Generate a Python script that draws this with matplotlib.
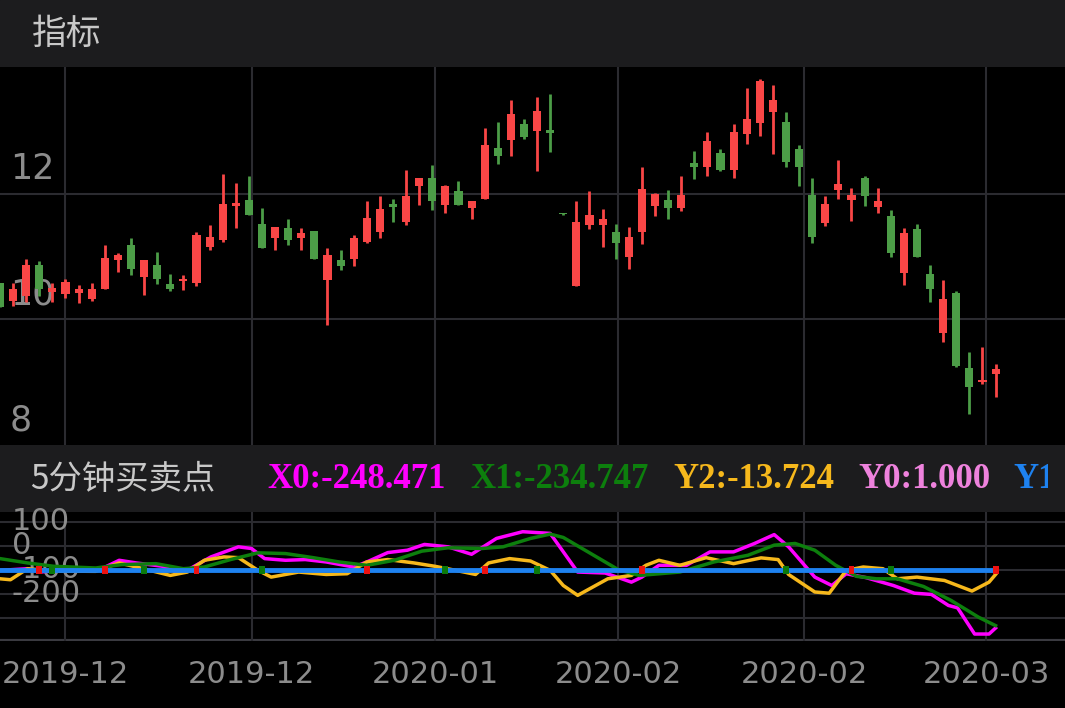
import matplotlib
matplotlib.use("Agg")
import matplotlib.pyplot as plt
from matplotlib.patches import Rectangle
import numpy as np

# ---------------- data ----------------
opens  = [10.58,10.29,10.37,10.87,10.44,10.41,10.42,10.32,10.49,10.94,11.19,10.67,10.86,10.56,10.61,10.58,11.16,11.26,11.80,11.90,
          11.52,11.29,11.46,11.29,11.41,10.62,10.94,10.97,11.23,11.40,11.84,11.55,12.12,12.26,11.83,12.05,11.77,11.92,12.73,12.86,
          13.12,13.00,13.02,11.68,10.53,11.50,11.50,11.39,10.99,11.39,11.80,11.90,11.77,12.49,12.42,12.65,12.38,12.95,13.13,13.31,
          13.15,12.71,11.98,11.53,12.06,11.90,12.25,11.79,11.64,10.74,11.44,10.73,9.79,10.42,9.22,9.00,9.13]
closes = [10.19,10.49,10.86,10.48,10.50,10.59,10.49,10.48,10.98,11.02,10.80,10.94,10.64,10.48,10.65,11.34,11.32,11.84,11.86,11.67,
          11.14,11.47,11.27,11.37,10.97,11.03,10.85,11.30,11.62,11.76,11.79,11.96,12.25,11.89,12.13,11.82,11.88,12.78,12.61,13.27,
          12.91,13.32,12.97,11.68,11.55,11.67,11.60,11.21,11.31,12.08,11.99,11.78,11.98,12.42,12.84,12.38,12.99,13.19,13.79,13.49,
          12.51,12.42,11.32,11.84,12.15,11.98,11.96,11.89,11.05,11.38,10.99,10.48,10.33,9.26,8.92,9.04,9.21]
highs  = [10.58,10.58,10.96,10.93,10.58,10.65,10.55,10.58,11.18,11.05,11.29,10.94,11.07,10.73,10.71,11.40,11.51,12.31,12.17,12.29,
          11.78,11.47,11.60,11.46,11.41,11.14,11.10,11.35,11.89,11.97,11.92,12.38,12.25,12.46,12.14,12.20,11.88,13.05,13.14,13.49,
          13.19,13.55,13.59,11.69,11.89,12.05,11.76,11.52,11.47,12.42,12.01,12.06,12.29,12.68,12.98,12.71,13.12,13.69,13.83,13.73,
          13.30,12.78,12.25,11.97,12.54,12.09,12.28,12.09,11.75,11.45,11.52,10.86,10.63,10.46,9.48,9.56,9.29]
lows   = [10.19,10.21,10.28,10.37,10.28,10.34,10.26,10.29,10.48,10.76,10.71,10.39,10.56,10.45,10.47,10.54,11.11,11.24,11.45,11.66,
          11.14,11.11,11.19,11.11,10.97,9.91,10.78,10.85,11.22,11.30,11.55,11.51,11.82,11.74,11.69,11.82,11.60,11.92,12.48,12.61,
          12.87,12.37,12.66,11.67,10.53,11.44,11.15,10.97,10.80,11.20,11.64,11.60,11.73,12.23,12.29,12.37,12.26,12.79,12.92,12.64,
          12.42,12.12,11.21,11.48,11.92,11.56,11.80,11.70,11.00,10.55,10.99,10.28,9.64,9.25,8.49,8.97,8.77]

date_labels = ["2019-12", "2019-12", "2020-01", "2020-02", "2020-02", "2020-03"]
date_pos = [4.96, 19.2, 33.2, 47.2, 61.4, 75.3]

x0_idx = [0,2.1,3.1,5.2,7.5,9.1,10.4,12.4,13.5,14.5,16.1,18.2,19.2,20.2,21.8,23.3,24.9,27.0,28.0,29.6,31.1,32.4,34.2,36.0,37.9,
          39.9,42.0,44.1,46.2,48.2,49.0,50.3,52.4,54.2,56.0,57.6,59.1,60.2,62.2,63.5,64.6,66.1,68.2,69.8,71.1,72.4,73.1,74.4,75.5,76.0]
x0_val = [-103,-96,-110,-96,-103,-61,-72,-86,-110,-96,-47,-5,-12,-54,-61,-58,-68,-89,-68,-29,-19,5,-5,-36,30,
          58,51,-110,-114,-152,-131,-82,-82,-26,-26,9,46,-5,-131,-166,-117,-133,-166,-198,-203,-249,-259,-368,-368,-343]
x1_idx = [0,2.1,4.1,7.3,9.3,11.9,14.0,15.6,17.6,19.7,21.8,23.9,25.9,28.0,30.1,32.2,34.2,36.8,38.4,40.5,42.0,43.0,45.1,47.2,48.8,
          51.9,54.5,57.1,59.1,60.7,62.2,63.8,65.4,66.9,68.5,70.5,72.6,74.7,76.0]
x1_val = [-54,-72,-86,-93,-79,-75,-96,-89,-58,-30,-33,-50,-68,-82,-61,-23,-9,-12,-5,30,48,34,-33,-100,-124,
          -110,-68,-40,2,9,-19,-82,-128,-138,-138,-170,-228,-298,-333]
y2_idx = [0,0.8,2.1,4.1,7.3,9.1,10.4,13.0,14.3,15.6,17.1,18.2,19.7,20.7,22.8,24.9,26.5,28.0,29.6,31.6,33.2,34.8,36.3,37.3,38.9,
          40.5,42.0,43.0,44.1,46.4,48.2,49.3,50.3,51.9,53.9,56.0,58.1,59.4,60.2,62.2,63.3,64.6,65.9,67.4,68.5,70.0,72.1,74.2,75.5,76.0]
y2_val = [-138,-142,-96,-106,-107,-72,-89,-124,-110,-61,-47,-50,-103,-131,-110,-120,-117,-68,-58,-72,-86,-103,-120,-72,-54,
          -64,-103,-166,-207,-138,-124,-82,-61,-82,-50,-75,-51,-58,-120,-193,-198,-103,-89,-96,-138,-131,-145,-189,-152,-120]
y1_level = -100
buy_marks = [3, 8, 15, 28, 37, 49, 65, 76]
sell_marks = [4, 11, 20, 34, 41, 60, 68]

# ---------------- figure ----------------
W, H = 1065, 708
fig = plt.figure(figsize=(W/100, H/100), dpi=100, facecolor="black")
CJK = ["Noto Sans CJK SC", "DejaVu Sans"]
GRID = "#2b2b30"
TXT = "#8c8c8c"

def fy(px):  # pixel from top -> fig fraction
    return 1 - px / H

fig.patches.append(Rectangle((0, fy(67)), 1, 67/H, transform=fig.transFigure, color="#1c1c1e", zorder=-5))
fig.patches.append(Rectangle((0, fy(512)), 1, 67/H, transform=fig.transFigure, color="#1c1c1e", zorder=-5))
fig.text(32/W, fy(34), "指标", family=CJK, fontsize=25, color="#c8c8c8", va="center")

xlim = (0, 81.3)

# price panel
ax = fig.add_axes([0, fy(445), 1, 378/H])
ax.set_facecolor("black")
ax.set_xlim(*xlim)
ax.set_ylim(8, 14.02)
for s in ax.spines.values():
    s.set_visible(False)
ax.set_xticks([]); ax.set_yticks([])
for yv in [12, 10]:
    ax.axhline(yv, color=GRID, lw=1.5, zorder=1)
for xv in date_pos:
    ax.axvline(xv, color=GRID, lw=1.5, zorder=1)
for lab in [12, 10, 8]:
    ax.text(0.75, lab + 0.12, str(lab), fontsize=25, color=TXT, va="bottom", ha="left", zorder=2)
idx = np.arange(len(opens))
o = np.array(opens); c = np.array(closes)
cols = ["#f94646" if cc > oo else "#4c9d47" for oo, cc in zip(o, c)]
ax.vlines(idx, lows, highs, colors=cols, lw=2, zorder=3)
body = np.maximum(np.abs(c - o), 0.02)
ax.bar(idx, body, bottom=np.minimum(o, c), width=0.62, color=cols, zorder=4)

# header 2
fig.text(30/W, fy(479), "5分钟买卖点", family=CJK, fontsize=24, color="#c8c8c8", va="center")
hax = fig.add_axes([0, fy(512), 1048/W, 67/H])
hax.axis("off")
hax.set_xlim(0, 1048); hax.set_ylim(0, 67)
serif = dict(family="Liberation Serif", fontweight="bold", fontsize=25, va="center", clip_on=True)
hax.text(267, 33, "X0:-248.471", color="#ff00ff", **serif)
hax.text(470, 33, "X1:-234.747", color="#0d7f0d", **serif)
hax.text(673, 33, "Y2:-13.724", color="#f6b81c", **serif)
hax.text(858, 33, "Y0:1.000", color="#ee82dd", **serif)
hax.text(1013, 33, "Y1:1.000", color="#1e82f0", **serif)

# indicator panel
ax2 = fig.add_axes([0, fy(641), 1, 129/H])
ax2.set_facecolor("black")
ax2.set_xlim(*xlim)
ax2.set_ylim(-397, 140)
for s in ax2.spines.values():
    s.set_visible(False)
ax2.set_xticks([]); ax2.set_yticks([])
for yv in [100, 0, -100, -200, -300]:
    ax2.axhline(yv, color=GRID, lw=1.5, zorder=1)
ax2.axhline(-397, color="#3a3a40", lw=3, zorder=1)
for xv in date_pos:
    ax2.axvline(xv, color=GRID, lw=1.5, zorder=1)
for lab in [100, 0, -100, -200]:
    ax2.text(0.9, lab, str(lab), fontsize=22, color=TXT, va="center", ha="left", zorder=2)
ax2.plot(x0_idx, x0_val, color="#ff00ff", lw=2.5, zorder=3)
ax2.plot(y2_idx, y2_val, color="#f6b81c", lw=2.5, zorder=3)
ax2.plot(x1_idx, x1_val, color="#0d7f0d", lw=2.5, zorder=4)
ax2.plot([0, 76], [y1_level, y1_level], color="#1e82f0", lw=3.5, zorder=5)
ax2.bar(buy_marks, 34, bottom=y1_level - 17, width=0.45, color="#ee1111", zorder=6)
ax2.bar(sell_marks, 34, bottom=y1_level - 17, width=0.45, color="#0b7a0b", zorder=6)

# date labels
lax = fig.add_axes([0, 0, 1, 67/H])
lax.set_facecolor("black")
lax.set_xlim(*xlim); lax.set_ylim(0, 1)
lax.axis("off")
for p, t in zip(date_pos, date_labels):
    lax.text(p, 0.5, t, fontsize=22, color=TXT, ha="center", va="center")

fig.savefig("out.png", dpi=100, facecolor="black")
